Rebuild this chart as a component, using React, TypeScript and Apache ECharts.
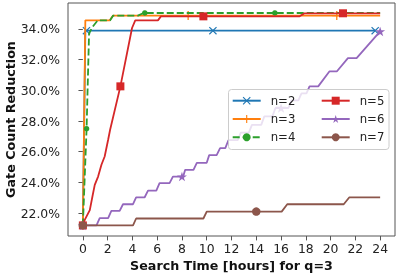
import React, { useEffect, useRef } from "react";
import * as echarts from "echarts";

const seriesNames = ["n=2", "n=3", "n=4", "n=5", "n=6", "n=7"];
const colors = ["#1f77b4", "#ff7f0e", "#2ca02c", "#d62728", "#9467bd", "#8c564b"];
const xTicks = [0, 2, 4, 6, 8, 10, 12, 14, 16, 18, 20, 22, 24];
const yTicks = [22, 24, 26, 28, 30, 32, 34];

// [hours, gate count reduction %]
const n2Points = [[0, 21.2], [0.2, 33.89], [0.29, 33.89], [10.5, 33.89], [23.6, 33.89]];
const n2Markers = [2, 3, 4];

const n3Points = [[0, 21.2], [0.2, 34.56], [2.17, 34.56], [2.44, 34.87], [8.5, 34.87], [20.5, 34.87], [24, 34.87]];
const n3Markers = [4, 5];

const n4Points = [[0, 21.2], [0.3, 27.5], [0.5, 33.7], [0.75, 34.1], [1.2, 34.56], [2.2, 34.56], [2.45, 34.87], [4.45, 34.87], [4.9, 35.04], [5.0, 35.04], [15.5, 35.04], [24, 35.04]];
const n4Markers = [1, 9, 10];

const n5Points = [[0, 21.2], [0.15, 21.56], [0.56, 22.2], [0.8, 23.2], [0.96, 23.84], [1.23, 24.38], [1.5, 25.15], [1.76, 25.69], [2.04, 26.78], [2.2, 27.43], [3.03, 30.26], [3.97, 34.06], [4.23, 34.56], [6.06, 34.56], [6.3, 34.82], [9.73, 34.82], [17.5, 34.82], [17.9, 35.02], [21.0, 35.02], [24, 35.02]];
const n5Markers = [0, 10, 15, 18];

const n6Points = [[0, 21.2], [1.1, 21.2], [1.36, 21.67], [2.04, 21.67], [2.3, 22.15], [2.97, 22.15], [3.24, 22.58], [4.05, 22.58], [4.3, 23.02], [4.98, 23.02], [5.26, 23.47], [5.93, 23.47], [6.19, 23.95], [7.0, 23.95], [7.27, 24.38], [8.0, 24.38], [8.1, 24.38], [8.26, 24.82], [8.93, 24.82], [9.2, 25.28], [10.0, 25.28], [10.2, 25.78], [10.8, 25.78], [11.08, 26.24], [11.5, 26.24], [11.75, 26.75], [12.5, 26.75], [12.75, 27.25], [13.4, 27.25], [13.65, 27.75], [14.4, 27.75], [14.65, 28.3], [15.3, 28.3], [15.55, 28.85], [16.0, 28.85], [16.6, 28.85], [16.85, 29.35], [17.4, 29.35], [17.65, 29.8], [18.05, 29.8], [18.3, 30.26], [19.0, 30.26], [19.9, 31.23], [20.5, 31.23], [21.4, 32.1], [22.1, 32.1], [24, 33.84]];
const n6Markers = [0, 15, 34, 46];

const n7Points = [[0, 21.2], [4.05, 21.2], [4.3, 21.65], [9.73, 21.65], [10.0, 22.1], [14.0, 22.1], [16.05, 22.1], [16.5, 22.58], [21.06, 22.58], [21.5, 23.02], [24, 23.02]];
const n7Markers = [0, 5];

const X_PATH = "path://M1 0 L5 4 L9 0 L10 1 L6 5 L10 9 L9 10 L5 6 L1 10 L0 9 L4 5 L0 1 Z";
const PLUS_PATH = "path://M4.3 0 H5.7 V4.3 H10 V5.7 H5.7 V10 H4.3 V5.7 H0 V4.3 H4.3 Z";
const STAR_PATH = "path://M5 0 L6.117 3.463 L9.755 3.455 L6.807 5.587 L7.939 9.045 L5 6.9 L2.061 9.045 L3.193 5.587 L0.245 3.455 L3.883 3.463 Z";

const allPoints = [n2Points, n3Points, n4Points, n5Points, n6Points, n7Points];
const allMarkers = [n2Markers, n3Markers, n4Markers, n5Markers, n6Markers, n7Markers];
const symbols = [X_PATH, PLUS_PATH, "circle", "rect", STAR_PATH, "circle"];
const symbolSizes = [8, 9, 5.5, 8, 10, 8.5];

const FONT = "DejaVu Sans";

function build(points: number[][], markers: number[]) {
  return points.map((p, i) =>
    markers.includes(i) ? { value: p } : { value: p, symbol: "none" }
  );
}

export default function App() {
  const ref = useRef<HTMLDivElement>(null);
  useEffect(() => {
    if (!ref.current) return;
    const chart = echarts.init(ref.current, undefined, { renderer: "svg" });
    const series = seriesNames.map((name, i) => ({
      name,
      type: "line",
      data: build(allPoints[i], allMarkers[i]),
      symbol: symbols[i],
      symbolSize: symbolSizes[i],
      symbolKeepAspect: true,
      showSymbol: true,
      showAllSymbol: true,
      color: colors[i],
      lineStyle: {
        color: colors[i],
        width: 1.8,
        type: i === 2 ? [7, 3] : "solid",
      },
      itemStyle: { color: colors[i] },
      z: 2 + i * 0.01,
      emphasis: { disabled: true },
    }));
    const legendCommon = {
      orient: "vertical",
      itemWidth: 28,
      itemHeight: 10,
      itemGap: 4.3,
      top: 93.7,
      padding: 0,
      textStyle: { fontFamily: FONT, fontSize: 11.7, color: "#222", lineHeight: 14, padding: [0, 0, 0, 5] },
      selectedMode: false,
    };
    chart.setOption({
      animation: false,
      grid: {
        left: 68,
        right: 4,
        top: 3,
        bottom: 40,
        containLabel: false,
        outerBoundsMode: "none",
        show: true,
        borderColor: "#555",
        borderWidth: 1,
        backgroundColor: "transparent",
      },
      xAxis: {
        type: "value",
        min: -1.2,
        max: 25.2,
        name: "Search Time [hours] for q=3",
        nameLocation: "middle",
        nameGap: 22,
        nameTextStyle: { fontFamily: FONT, fontSize: 12.7, fontWeight: "bold", color: "#111" },
        axisLine: { show: false },
        splitLine: { show: false },
        axisTick: { show: true, length: 4.4, customValues: xTicks, lineStyle: { color: "#555" } },
        axisLabel: {
          customValues: xTicks,
          fontFamily: FONT,
          fontSize: 12.4,
          color: "#222",
          margin: 6,
        },
      },
      yAxis: {
        type: "value",
        min: 20.51,
        max: 35.69,
        name: "Gate Count Reduction",
        nameLocation: "middle",
        nameGap: 51,
        nameMoveOverlap: false,
        nameTextStyle: { fontFamily: FONT, fontSize: 12.7, fontWeight: "bold", color: "#111" },
        axisLine: { show: false },
        splitLine: { show: false },
        axisTick: { show: true, length: 4.4, customValues: yTicks, lineStyle: { color: "#555" } },
        axisLabel: {
          customValues: yTicks,
          fontFamily: FONT,
          fontSize: 12.4,
          color: "#222",
          margin: 8,
          formatter: (v: number) => v.toFixed(1) + "%",
        },
      },
      graphic: {
        elements: [
          {
            type: "rect",
            z: 3,
            shape: { x: 228.5, y: 89.5, width: 160.5, height: 60, r: 3 },
            style: { fill: "rgba(255,255,255,0.8)", stroke: "#cccccc", lineWidth: 1 },
          },
        ],
      },
      legend: [
        { ...legendCommon, left: 231.7, data: seriesNames.slice(0, 3) },
        { ...legendCommon, left: 320.7, data: seriesNames.slice(3, 6) },
      ],
      series,
    });
    return () => chart.dispose();
  }, []);
  return (
    <div
      ref={ref}
      style={{ position: "fixed", left: 0, top: 0, width: 399, height: 276 }}
    />
  );
}
